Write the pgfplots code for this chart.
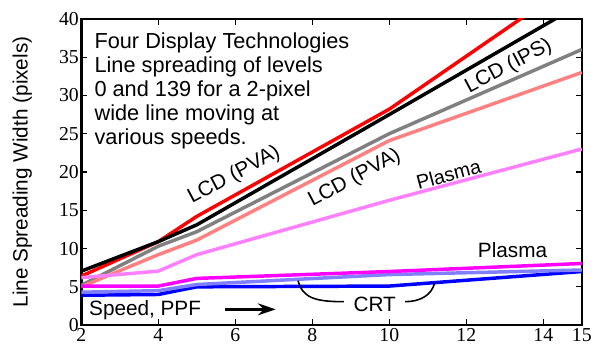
\documentclass[border=0pt]{standalone}
\usepackage{pgfplots}
\pgfplotsset{compat=1.18}
\usetikzlibrary{arrows.meta}
\usepackage{fontspec}
\setmainfont{Liberation Sans}
\newfontfamily\seriffont{Liberation Serif}
\definecolor{mag}{RGB}{255,0,255}
\definecolor{lmag}{RGB}{255,128,255}
\definecolor{lred}{RGB}{255,128,128}
\definecolor{lblue}{RGB}{128,128,255}
\definecolor{pblue}{RGB}{0,0,255}
\definecolor{pred}{RGB}{255,0,0}
\definecolor{pgray}{RGB}{128,128,128}
\begin{document}
\begin{tikzpicture}
\begin{axis}[
 scale only axis, width=505bp, height=309bp,
 xmin=2, xmax=15, ymin=0, ymax=40,
 xtick={2,4,6,8,10,12,14,15}, ytick={0,5,10,15,20,25,30,35,40},
 tick align=inside, major tick length=6bp,
 every tick/.style={black, line width=1.2bp},
 axis line style={line width=2.5bp},
 xticklabel={\seriffont\fontsize{20}{20}\selectfont\pgfmathprintnumber[assume math mode=true]{\tick}},
 yticklabel={\seriffont\fontsize{20}{20}\selectfont\pgfmathprintnumber[assume math mode=true]{\tick}},
 yticklabel style={xshift=1bp},
 ylabel={Line Spreading Width (pixels)},
 every axis y label/.style={at={(axis description cs:-0.118,0.5)}, rotate=90, anchor=center, font=\fontsize{21}{21}\selectfont},
 every axis plot/.append style={line width=3.5bp, line join=round},
 clip=true,
]
\addplot[pred] coordinates {(2,6.4)(4,10.9)(5,14.2)(10,28.2)(15,45.5)};
\addplot[black] coordinates {(2,7.05)(4,10.9)(5,13.1)(10,27.5)(15,42)};
\addplot[pgray] coordinates {(2,5.2)(4,10.3)(5,12.2)(10,25)(15,36)};
\addplot[lred] coordinates {(2,5)(4,9.2)(5,11.1)(10,24.1)(15,33)};
\addplot[lmag] coordinates {(2,6.2)(4,7.05)(5,9.2)(10,16.3)(15,23)};
\addplot[pblue] coordinates {(2,3.9)(4,4)(5,5)(10,5.1)(15,7)};
\addplot[lblue] coordinates {(2,4.3)(4,4.5)(5,5.3)(10,6.6)(15,7.2)};
\addplot[mag] coordinates {(2,5.1)(4,5.1)(5,6.1)(10,7)(15,8.05)};

\node[anchor=north west, align=left, inner sep=0pt, font=\fontsize{22}{24.2}\selectfont]
  at (axis cs:2.34,38.2) {Four Display Technologies\\Line spreading of levels\\0 and 139 for a 2-pixel\\wide line moving at\\various speeds.};
\node[rotate=28, inner sep=0pt, font=\fontsize{21}{21}\selectfont] at (axis cs:5.97,19.6) {LCD (PVA)};
\node[rotate=28, inner sep=0pt, font=\fontsize{21}{21}\selectfont] at (axis cs:9.1,19.2) {LCD (PVA)};
\node[rotate=28, inner sep=0pt, font=\fontsize{21}{21}\selectfont] at (axis cs:13.1,33.8) {LCD (IPS)};
\node[rotate=15, inner sep=0pt, font=\fontsize{20}{20}\selectfont] at (axis cs:11.54,19.7) {Plasma};
\node[inner sep=0pt, font=\fontsize{21}{21}\selectfont] at (axis cs:13.2,9.8) {Plasma};
\node[inner sep=0pt, font=\fontsize{21}{21}\selectfont] at (axis cs:9.62,2.77) {CRT};
\node[anchor=base west, inner sep=0pt, font=\fontsize{21}{21}\selectfont] at (axis cs:2.2,1.25) {Speed, PPF};
\draw[line width=2.6bp, -{Stealth[length=18bp,width=12bp]}] (axis cs:5.72,2.06) -- (axis cs:7.05,2.06);
\draw[line width=1.6bp] (axis cs:7.63,5.8) .. controls (axis cs:7.75,3.5) and (axis cs:8.1,3.06) .. (axis cs:8.82,3.06);
\draw[line width=1.6bp] (axis cs:10.41,3.06) .. controls (axis cs:10.8,3.06) and (axis cs:11.1,3.9) .. (axis cs:11.18,5.55);
\end{axis}
\path ([shift={(-82bp,-22bp)}]current axis.south west) rectangle ([shift={(8bp,19bp)}]current axis.north east);
\end{tikzpicture}
\end{document}
